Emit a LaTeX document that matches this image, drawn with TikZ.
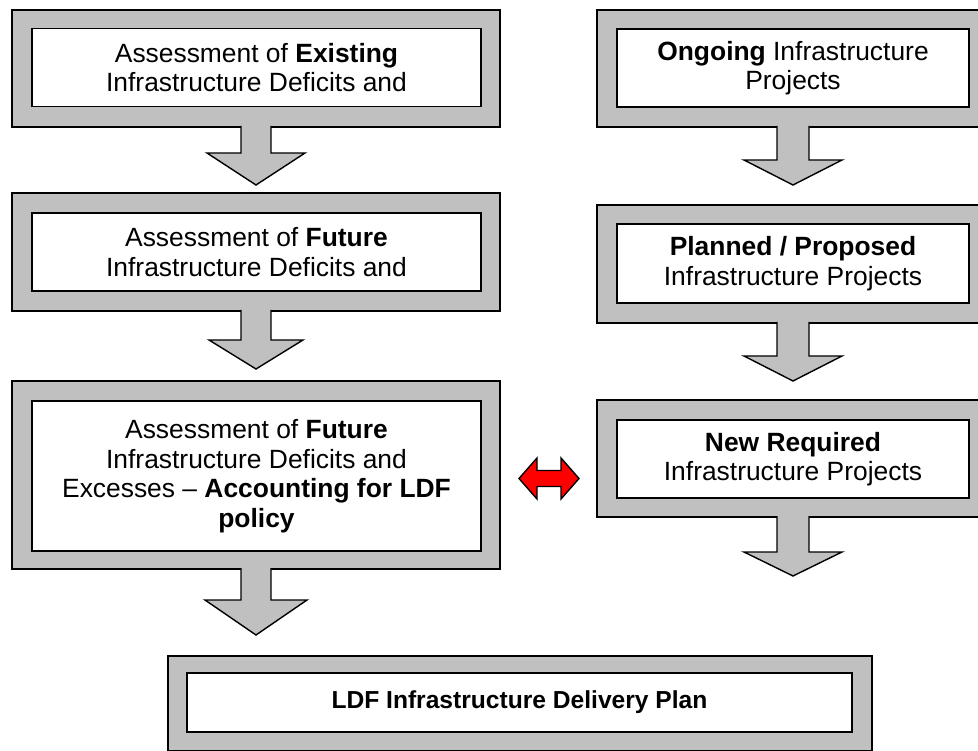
\documentclass[tikz,border=0pt]{standalone}
\usepackage{fontspec}
\setmainfont{Liberation Sans}
\definecolor{panelgray}{RGB}{192,192,192}
\definecolor{linkred}{RGB}{255,0,0}

% Block arrow pointing down from the bottom edge of a frame node.
% #1 frame node, #2 half shaft width, #3 shaft length,
% #4 half head width, #5 head length, #6 name of the tip coordinate
\newcommand\flowdown[6]{%
  \path[flowarrow] ([xshift=-#2pt,yshift=1pt]#1.south) -- ++(0,#3+1)
    -- ++({-(#4-#2)},0) -- ++(#4,#5) coordinate (#6)
    -- ++(#4,-#5) -- ++({-(#4-#2)},0) -- ++(0,{-(#3+1)});}

\begin{document}
\begin{tikzpicture}[x=1pt,y=-1pt,
  frame/.style={rectangle,draw=black,fill=panelgray,line width=1.4pt,
    inner sep=0pt,outer sep=0pt},
  card/.style={rectangle,draw=black,fill=white,line width=1.4pt,
    inner sep=0pt,outer sep=0pt,align=center,
    font=\fontsize{26.4}{29.5}\selectfont},
  flowarrow/.style={draw=black,fill=panelgray,line width=1.4pt,line join=miter},
  linkarrow/.style={draw=black,fill=linkred,line width=1.4pt,line join=miter}]
\useasboundingbox (0,0) rectangle (978,751);
\clip (0,0) rectangle (978,751);

% left column
\node[frame,minimum width=488pt,minimum height=117pt] (L1) at (256,68.5) {};
\node[card,minimum width=449pt,minimum height=78pt] (L1t) at (256.5,67.5)
  {Assessment of \textbf{Existing}\\Infrastructure Deficits and};

\node[frame,minimum width=488pt,minimum height=118pt] (L2) at (256,252) {};
\node[card,minimum width=449pt,minimum height=78pt] (L2t) at (256.5,252)
  {Assessment of \textbf{Future}\\Infrastructure Deficits and};

\node[frame,minimum width=488pt,minimum height=188pt] (L3) at (256,475) {};
\node[card,minimum width=449pt,minimum height=150pt] (L3t) at (256.5,476)
  {Assessment of \textbf{Future}\\Infrastructure Deficits and\\
   Excesses -- \textbf{Accounting for LDF}\\\textbf{policy}};

% right column
\node[frame,minimum width=392pt,minimum height=117pt] (R1) at (793,68.5) {};
\node[card,minimum width=352pt,minimum height=78pt] (R1t) at (793,68)
  {\textbf{Ongoing} Infrastructure\\Projects};

\node[frame,minimum width=392pt,minimum height=118pt] (R2) at (793,264) {};
\node[card,minimum width=352pt,minimum height=79pt] (R2t) at (793,263.5)
  {\textbf{Planned / Proposed}\\Infrastructure Projects};

\node[frame,minimum width=392pt,minimum height=117pt] (R3) at (793,458.5) {};
\node[card,minimum width=352pt,minimum height=78pt] (R3t) at (793,459)
  {\textbf{New Required}\\Infrastructure Projects};

% delivery plan
\node[frame,minimum width=704pt,minimum height=95pt] (P) at (520,703.5) {};
\node[card,minimum width=665pt,minimum height=59pt,
  font=\fontsize{24.6}{29.5}\selectfont] (Pt) at (519.5,702.5)
  {\textbf{LDF Infrastructure Delivery Plan}};

% flow arrows
\flowdown{L1}{15}{26}{49}{32}{L1tip}
\flowdown{L2}{15}{29}{47}{29}{L2tip}
\flowdown{L3}{15}{31}{51}{35}{L3tip}
\flowdown{R1}{16}{33}{49}{25}{R1tip}
\flowdown{R2}{16}{33}{49}{25}{R2tip}
\flowdown{R3}{16}{35}{49}{24}{R3tip}

% two-way link between the columns
\coordinate (link) at (549,478.5);
\path[linkarrow] ([xshift=-30pt]link) -- ++(18,-20.5) -- ++(0,12.5)
  -- ++(24,0) -- ++(0,-12.5) -- ++(18,20.5) -- ++(-18,20.5)
  -- ++(0,-12.5) -- ++(-24,0) -- ++(0,12.5) -- cycle;
\end{tikzpicture}
\end{document}
